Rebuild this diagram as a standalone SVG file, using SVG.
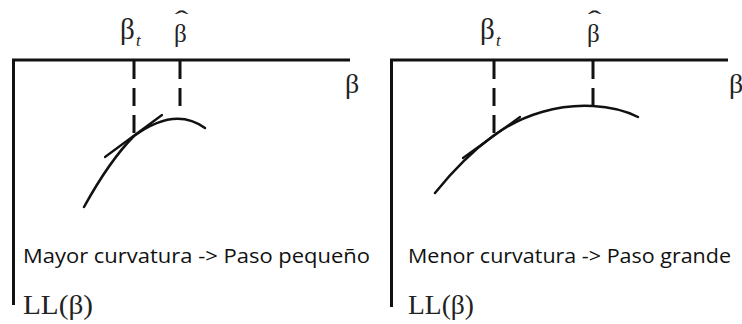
<svg xmlns="http://www.w3.org/2000/svg" width="742" height="324" viewBox="0 0 742 324">
  <style>
    .axis { stroke: #111; stroke-width: 3; fill: none; stroke-linecap: butt; }
    .dash { stroke: #111; stroke-width: 3; fill: none; stroke-dasharray: 18 9; }
    .curve { stroke: #111; stroke-width: 2.5; fill: none; stroke-linecap: round; }
    .tan { stroke: #111; stroke-width: 2.2; fill: none; stroke-linecap: round; }
    .greek { font-family: "Liberation Serif", "DejaVu Serif", serif; fill: #222; }
    .hat { font-family: "Liberation Serif", "DejaVu Serif", serif; fill: #222; font-size: 24px; text-anchor: middle; }
    .cap { font-family: "Open Sans", "Liberation Sans", sans-serif; font-size: 20px; fill: #111; }
  </style>
  <rect width="742" height="324" fill="#fff"/>

  <g id="panel-left">
    <g id="axes-left">
      <path class="axis" d="M12,60 H350 M13.5,60 V305"/>
    </g>
    <g id="guides-left">
      <line class="dash" x1="134" y1="61" x2="134" y2="136"/>
      <line class="dash" x1="180" y1="61" x2="180" y2="114"/>
    </g>
    <g id="curve-left">
      <path class="curve" d="M84,207 Q110,160 134,136 Q175,106 205,128"/>
      <line class="tan" x1="105" y1="157" x2="162" y2="115"/>
    </g>
    <g id="labels-left">
      <text class="greek" x="120" y="39" font-size="29">β</text>
      <text class="greek" x="136" y="46" font-size="17" font-style="italic">t</text>
      <text class="greek" x="174" y="42" font-size="25">β</text>
      <text class="hat" transform="translate(181.5,27) scale(1.7,1)">ˆ</text>
      <text class="greek" x="345" y="93" font-size="28">β</text>
      <text class="cap" x="23" y="263" textLength="347" lengthAdjust="spacingAndGlyphs">Mayor curvatura -&gt; Paso pequeño</text>
      <text class="greek" x="23" y="314" font-size="28" textLength="70" lengthAdjust="spacingAndGlyphs">LL(β)</text>
    </g>
  </g>

  <g id="panel-right">
    <g id="axes-right">
      <path class="axis" d="M390,60 H728 M391.5,60 V307"/>
    </g>
    <g id="guides-right">
      <line class="dash" x1="494" y1="61" x2="494" y2="136"/>
      <line class="dash" x1="593" y1="61" x2="593" y2="107"/>
    </g>
    <g id="curve-right">
      <path class="curve" d="M435,193 Q463,158 493,136 C523,114 560,104 593,106 C612,107 626,111 638,117"/>
      <line class="tan" x1="463" y1="158" x2="520" y2="117"/>
    </g>
    <g id="labels-right">
      <text class="greek" x="480" y="39" font-size="29">β</text>
      <text class="greek" x="496" y="46" font-size="17" font-style="italic">t</text>
      <text class="greek" x="587" y="42" font-size="25">β</text>
      <text class="hat" transform="translate(594.5,27) scale(1.7,1)">ˆ</text>
      <text class="greek" x="729" y="93" font-size="28">β</text>
      <text class="cap" x="408" y="263" textLength="323" lengthAdjust="spacingAndGlyphs">Menor curvatura -&gt; Paso grande</text>
      <text class="greek" x="408" y="314" font-size="28" textLength="66" lengthAdjust="spacingAndGlyphs">LL(β)</text>
    </g>
  </g>
</svg>
